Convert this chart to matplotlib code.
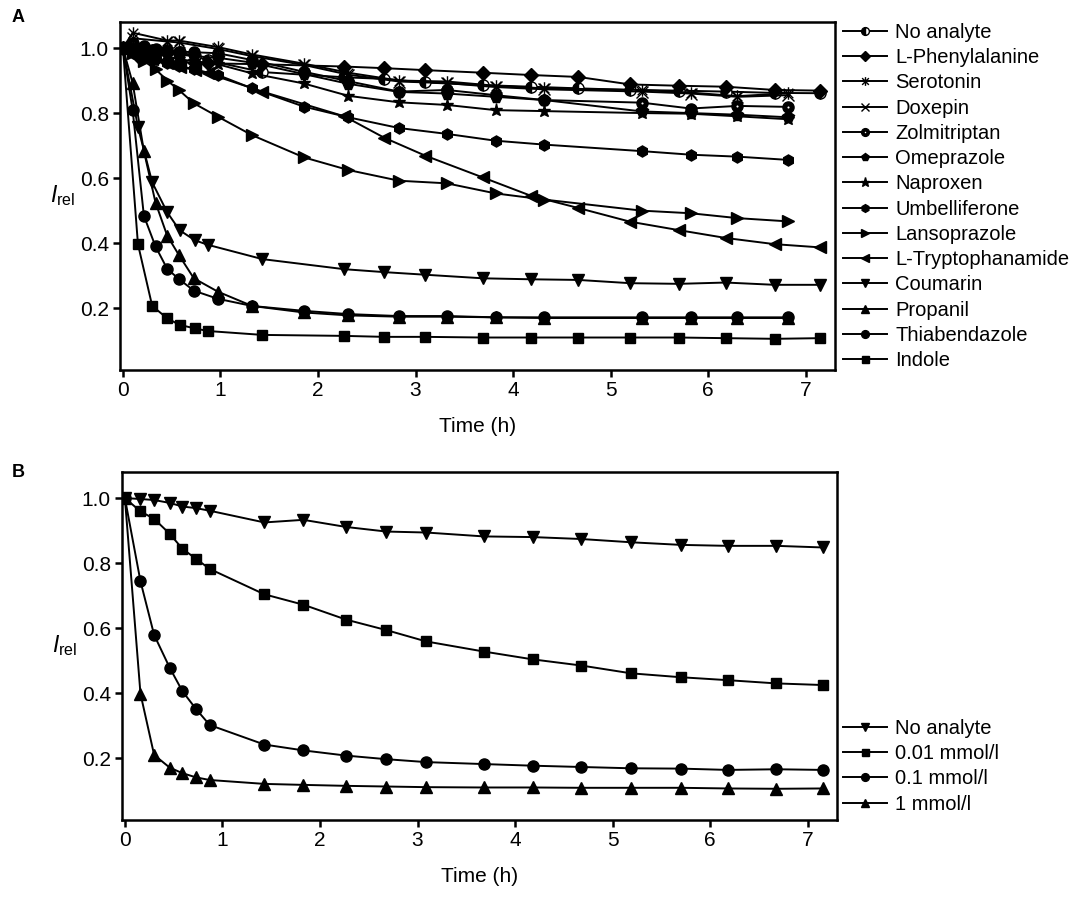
import matplotlib
matplotlib.use('Agg')
import matplotlib.pyplot as plt
from matplotlib.path import Path

plt.rcParams['font.family'] = ['Liberation Sans', 'DejaVu Sans']
plt.rcParams['mathtext.fontset'] = 'custom'
plt.rcParams['mathtext.rm'] = 'Liberation Sans'
plt.rcParams['mathtext.it'] = 'Liberation Sans:italic'

# ---- panel A data ----
tA1 = [0, 0.10, 0.215, 0.334, 0.454, 0.573, 0.727, 0.973, 1.324, 1.853, 2.31, 2.83, 3.32, 3.82, 4.32, 5.32, 5.82, 6.30, 6.82]
tA2 = [0, 0.154, 0.30, 0.454, 0.58, 0.737, 0.87, 1.43, 2.27, 2.68, 3.10, 3.69, 4.18, 4.67, 5.20, 5.70, 6.18, 6.68, 7.15]
tA3 = [0, 0.10, 0.454, 0.573, 0.973, 1.324, 1.853, 2.31, 2.83, 3.32, 3.82, 4.32, 5.32, 5.82, 6.30, 6.82]

no_analyte = [1.0, 0.998, 0.995, 0.993, 0.988, 0.975, 0.962, 0.926, 0.91, 0.905, 0.894, 0.886, 0.881, 0.876, 0.871, 0.869, 0.866, 0.862, 0.861]
phenylalanine = [1.0, 0.975, 0.965, 0.96, 0.957, 0.955, 0.953, 0.95, 0.943, 0.938, 0.932, 0.924, 0.917, 0.911, 0.888, 0.884, 0.881, 0.871, 0.869]
serotonin = [1.0, 1.047, 1.023, 1.023, 1.003, 0.98, 0.952, 0.924, 0.90, 0.897, 0.884, 0.876, 0.871, 0.863, 0.852, 0.861]
doxepin = [1.0, 1.03, 1.02, 1.017, 0.997, 0.975, 0.948, 0.918, 0.897, 0.892, 0.88, 0.873, 0.866, 0.86, 0.85, 0.855]
zolmitriptan = [1.0, 1.014, 1.005, 0.998, 0.992, 0.989, 0.987, 0.984, 0.963, 0.927, 0.898, 0.866, 0.871, 0.855, 0.84, 0.832, 0.814, 0.822, 0.819]
omeprazole = [1.0, 1.0, 0.995, 0.99, 0.985, 0.98, 0.975, 0.97, 0.955, 0.92, 0.89, 0.865, 0.86, 0.85, 0.84, 0.805, 0.80, 0.795, 0.787]
naproxen = [1.0, 0.99, 0.985, 0.98, 0.975, 0.965, 0.96, 0.95, 0.922, 0.891, 0.853, 0.833, 0.825, 0.809, 0.806, 0.80, 0.798, 0.79, 0.781]
umbelliferone = [1.0, 0.985, 0.975, 0.965, 0.955, 0.945, 0.935, 0.917, 0.876, 0.82, 0.787, 0.754, 0.736, 0.715, 0.703, 0.683, 0.672, 0.666, 0.656]
lansoprazole = [1.0, 0.985, 0.96, 0.935, 0.90, 0.871, 0.83, 0.789, 0.732, 0.664, 0.625, 0.592, 0.584, 0.553, 0.534, 0.500, 0.492, 0.477, 0.467]
tryptophanamide = [1.0, 0.978, 0.965, 0.955, 0.943, 0.932, 0.922, 0.866, 0.79, 0.724, 0.669, 0.602, 0.546, 0.508, 0.466, 0.44, 0.416, 0.397, 0.387]
coumarin = [1.0, 0.757, 0.587, 0.495, 0.44, 0.409, 0.395, 0.351, 0.320, 0.311, 0.303, 0.292, 0.289, 0.287, 0.277, 0.275, 0.279, 0.272, 0.272]
propanil = [1.0, 0.892, 0.683, 0.525, 0.423, 0.364, 0.292, 0.251, 0.207, 0.187, 0.178, 0.174, 0.174, 0.172, 0.170, 0.170, 0.170, 0.170, 0.170]
thiabendazole = [1.0, 0.808, 0.484, 0.390, 0.321, 0.290, 0.254, 0.229, 0.207, 0.192, 0.182, 0.176, 0.176, 0.172, 0.172, 0.172, 0.172, 0.172, 0.172]
indole = [1.0, 0.397, 0.207, 0.169, 0.149, 0.138, 0.130, 0.118, 0.115, 0.112, 0.112, 0.110, 0.110, 0.110, 0.110, 0.110, 0.108, 0.106, 0.108]

# ---- panel B data ----
tB = [0, 0.16, 0.30, 0.46, 0.59, 0.73, 0.87, 1.43, 1.83, 2.27, 2.68, 3.09, 3.68, 4.18, 4.68, 5.19, 5.70, 6.18, 6.68, 7.16]
b_none = [1.0, 0.997, 0.994, 0.985, 0.974, 0.969, 0.961, 0.925, 0.933, 0.911, 0.897, 0.894, 0.882, 0.880, 0.874, 0.864, 0.856, 0.853, 0.853, 0.848]
b_001 = [1.0, 0.959, 0.936, 0.890, 0.844, 0.813, 0.782, 0.704, 0.672, 0.626, 0.594, 0.559, 0.528, 0.504, 0.485, 0.461, 0.449, 0.440, 0.430, 0.425]
b_01 = [1.0, 0.744, 0.579, 0.478, 0.406, 0.351, 0.302, 0.242, 0.224, 0.208, 0.197, 0.188, 0.182, 0.177, 0.173, 0.169, 0.168, 0.164, 0.166, 0.164]
b_1 = [1.0, 0.398, 0.210, 0.171, 0.154, 0.141, 0.133, 0.121, 0.118, 0.115, 0.113, 0.111, 0.110, 0.110, 0.109, 0.109, 0.109, 0.107, 0.106, 0.107]

# asterisk = x plus vertical bar
ast = Path([(-1, -1), (1, 1), (-1, 1), (1, -1), (0, -1.3), (0, 1.3)],
           [Path.MOVETO, Path.LINETO, Path.MOVETO, Path.LINETO, Path.MOVETO, Path.LINETO])

fig = plt.figure(figsize=(10.84, 9.01), dpi=100)
axA = fig.add_axes([0.1107, 0.5893, 0.6596, 0.3863])
axB = fig.add_axes([0.1125, 0.0899, 0.6596, 0.3862])

kw = dict(color='black', lw=1.4, ms=8, mec='black', mew=1)

handles = []
h, = axA.plot(tA2, no_analyte, 'o', ls='-', fillstyle='left', mfc='black', markerfacecoloralt='white', **kw)
handles.append(h)
h, = axA.plot(tA2, phenylalanine, 'D', ls='-', mfc='black', **{**kw, 'ms': 7})
handles.append(h)
h, = axA.plot(tA3, serotonin, marker=ast, ls='-', mfc='none', **{**kw, 'ms': 9})
handles.append(h)
h, = axA.plot(tA3, doxepin, 'x', ls='-', **kw)
handles.append(h)
h1, = axA.plot(tA1, zolmitriptan, 'o', ls='-', mfc='black', **kw)
h2, = axA.plot(tA1, zolmitriptan, 'o', ls='none', ms=1.5, mfc='white', mec='white', mew=0)
handles.append((h1, h2))
h, = axA.plot(tA1, omeprazole, 'p', ls='-', mfc='black', **{**kw, 'ms': 8.5})
handles.append(h)
h, = axA.plot(tA1, naproxen, '*', ls='-', mfc='black', **{**kw, 'ms': 9.5})
handles.append(h)
h, = axA.plot(tA1, umbelliferone, 'h', ls='-', mfc='black', **kw)
handles.append(h)
h, = axA.plot(tA1, lansoprazole, '>', ls='-', mfc='black', **kw)
handles.append(h)
h, = axA.plot(tA2, tryptophanamide, '<', ls='-', mfc='black', **kw)
handles.append(h)
h, = axA.plot(tA2, coumarin, 'v', ls='-', mfc='black', **kw)
handles.append(h)
h, = axA.plot(tA1, propanil, '^', ls='-', mfc='black', **kw)
handles.append(h)
h, = axA.plot(tA1, thiabendazole, 'o', ls='-', mfc='black', **kw)
handles.append(h)
h, = axA.plot(tA2, indole, 's', ls='-', mfc='black', **{**kw, 'ms': 7.2})
handles.append(h)

labelsA = ['No analyte', 'L-Phenylalanine', 'Serotonin', 'Doxepin', 'Zolmitriptan', 'Omeprazole',
           'Naproxen', 'Umbelliferone', 'Lansoprazole', 'L-Tryptophanamide', 'Coumarin',
           'Propanil', 'Thiabendazole', 'Indole']

hb = []
hb.append(axB.plot(tB, b_none, 'v', ls='-', mfc='black', **kw)[0])
hb.append(axB.plot(tB, b_001, 's', ls='-', mfc='black', **{**kw, 'ms': 7.2})[0])
hb.append(axB.plot(tB, b_01, 'o', ls='-', mfc='black', **kw)[0])
hb.append(axB.plot(tB, b_1, '^', ls='-', mfc='black', **kw)[0])
labelsB = ['No analyte', '0.01 mmol/l', '0.1 mmol/l', '1 mmol/l']

for ax in (axA, axB):
    ax.set_xlim(-0.03, 7.3)
    ax.set_ylim(0.01, 1.08)
    ax.set_xticks(range(8))
    ax.set_yticks([0.2, 0.4, 0.6, 0.8, 1.0])
    ax.set_yticklabels(['0.2', '0.4', '0.6', '0.8', '1.0'])
    for s in ax.spines.values():
        s.set_linewidth(1.8)
    ax.tick_params(direction='out', length=5, width=1.8, labelsize=15, pad=3)
    ax.set_xlabel('Time (h)', fontsize=15, labelpad=12)
    ax.set_ylabel(r'$I_{\mathrm{rel}}$', fontsize=16.5, rotation=0, labelpad=12, va='center')

legkw = dict(frameon=False, fontsize=14.5, handlelength=2.2, handletextpad=0.4,
             labelspacing=0.31, borderpad=0, borderaxespad=0, loc='upper left', markerscale=0.7)
fig.legend(handles, labelsA, bbox_to_anchor=(843 / 1084, 1 - 23 / 901), **legkw)
fig.legend(hb, labelsB, bbox_to_anchor=(843 / 1084, 1 - 719 / 901), **legkw)

fig.text(12 / 1084, 1 - 18 / 901, 'A', fontsize=13, fontweight='bold', va='center')
fig.text(12 / 1084, 1 - 472 / 901, 'B', fontsize=13, fontweight='bold', va='center')

fig.savefig('out.png', dpi=100)
